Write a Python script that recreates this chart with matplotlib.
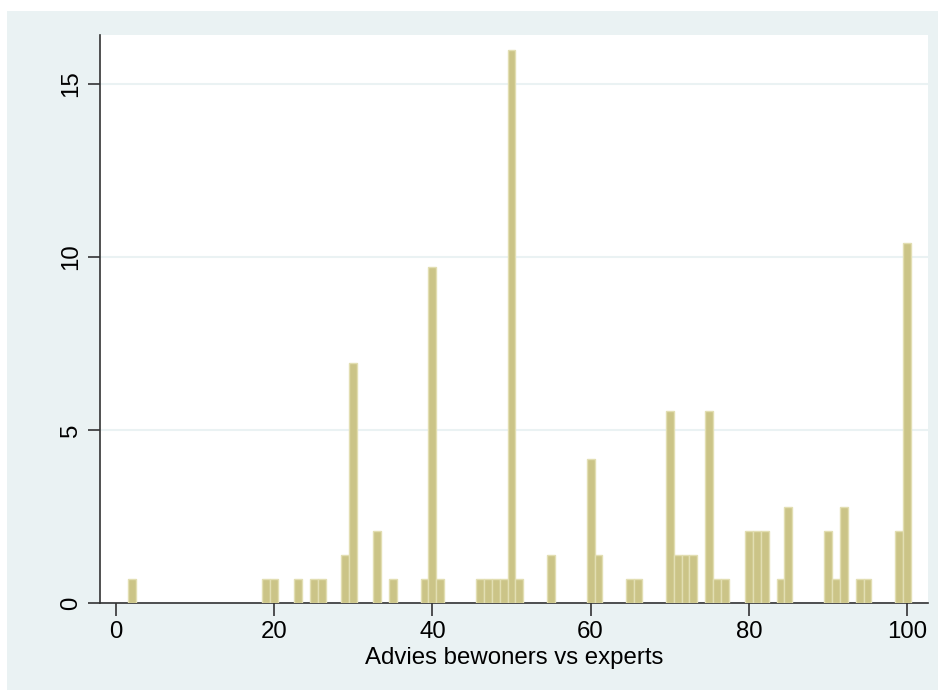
import matplotlib.pyplot as plt
from matplotlib.patches import Rectangle

plt.rcParams['font.family'] = ['Liberation Sans', 'DejaVu Sans']

# scores and percentage of respondents (N = 144)
values = [2, 19, 20, 23, 25, 26, 29, 30, 33, 35, 39, 40, 41, 46, 47, 48, 49, 50, 51,
          55, 60, 61, 65, 66, 70, 71, 72, 73, 75, 76, 77, 80, 81, 82, 84, 85,
          90, 91, 92, 94, 95, 99, 100]
counts = [1, 1, 1, 1, 1, 1, 2, 10, 3, 1, 1, 14, 1, 1, 1, 1, 1, 23, 1,
          2, 6, 2, 1, 1, 8, 2, 2, 2, 8, 1, 1, 3, 3, 3, 1, 4,
          3, 1, 4, 1, 1, 3, 15]
total = 144
percent = [c / total * 100 for c in counts]

xticks = [0, 20, 40, 60, 80, 100]
yticks = [0, 5, 10, 15]

W, H = 938, 690
fig = plt.figure(figsize=(W / 100, H / 100), dpi=100, facecolor='white')
bg = Rectangle((7 / W, 0), (W - 7) / W, (H - 11) / H,
               transform=fig.transFigure, facecolor='#EAF2F3',
               edgecolor='none', zorder=-10)
fig.add_artist(bg)

left, right, top, bottom = 100, 928, 35, 603
ax = fig.add_axes([left / W, 1 - bottom / H, (right - left) / W, (bottom - top) / H])
ax.set_facecolor('white')

ax.bar(values, percent, width=1.0, color='#CBC487', edgecolor='#E2DEB2',
       linewidth=1.0, zorder=3)

ax.set_xlim(-2.02, 102.65)
ax.set_ylim(0, 16.42)
ax.set_xticks(xticks)
ax.set_yticks(yticks)
ax.yaxis.grid(True, color='#EAF2F3', linewidth=1.5, zorder=1)
ax.set_axisbelow(True)

for s in ['top', 'right']:
    ax.spines[s].set_visible(False)
for s in ['left', 'bottom']:
    ax.spines[s].set_color('#333333')
    ax.spines[s].set_linewidth(1.2)

ax.tick_params(axis='both', length=9, width=1.2, color='#333333',
               labelsize=17.3, labelcolor='black', pad=4)
for lab in ax.get_yticklabels():
    lab.set_rotation(90)
    lab.set_va('center')

ax.set_xlabel('Advies bewoners vs experts', fontsize=17.3, labelpad=3)

fig.savefig('out.png', dpi=100, facecolor=fig.get_facecolor())
